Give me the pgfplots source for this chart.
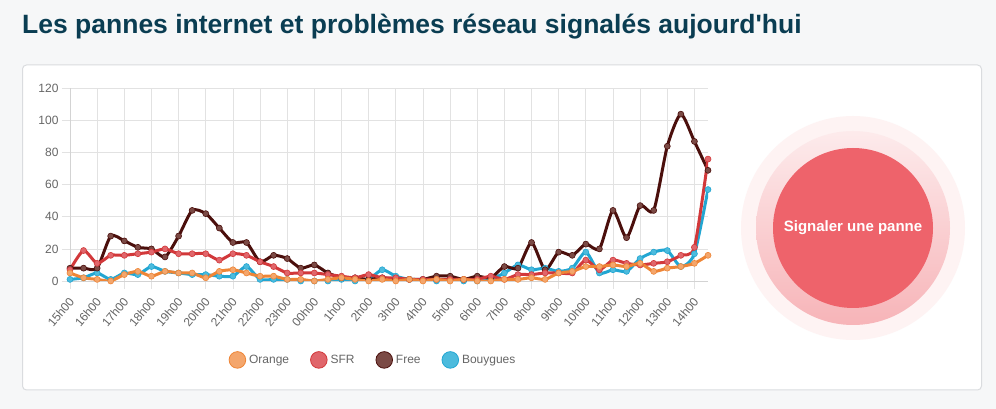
\documentclass[border=0pt]{standalone}
\usepackage{fontspec}
\setmainfont{Liberation Sans}[Ligatures=TeXOff]
\usepackage{pgfplots}
\usepackage{pgfplotstable}
\pgfplotsset{compat=1.18}
\definecolor{pagebg}{HTML}{F6F7F8}
\definecolor{cardborder}{HTML}{DADCDF}
\definecolor{titlec}{HTML}{0A3D52}
\definecolor{tickc}{HTML}{666666}
\definecolor{gridc}{HTML}{E2E2E2}
\definecolor{oLine}{HTML}{EE8536}
\definecolor{oLight}{HTML}{F4A66C}
\definecolor{sLine}{HTML}{D2383A}
\definecolor{sLight}{HTML}{E0666B}
\definecolor{fLine}{HTML}{4B0F0C}
\definecolor{fLight}{HTML}{7B4A45}
\definecolor{bLine}{HTML}{22A6D2}
\definecolor{bLight}{HTML}{4CBBDD}
\definecolor{btn}{HTML}{EE636B}
\pgfplotstableread{
x o s f b
0 5 7 8 1
1 2 19 8 2
2 1 11 8 5
3 0 16 28 1
4 4 16 25 5
5 6 17 21 4
6 3 18 20 9
7 6 20 15 6
8 5 17 28 5
9 5 17 44 4
10 2 17 42 4
11 6 13 33 3
12 7 17 24 3
13 5 16 24 9
14 3 12 12 1
15 3 9 16 1
16 1 5 14 1
17 1 5 8 0
18 0 5 10 0
19 1 4 5 0
20 2 3 2 1
21 1 2 2 0
22 0 4 1 1
23 1 2 2 7
24 0 2 1 3
25 1 1 1 1
26 0 1 1 1
27 1 1 3 0
28 0 1 3 1
29 1 1 1 0
30 0 1 3 0
31 0 3 2 1
32 1 1 9 5
33 1 4 8 10
34 2 4 24 7
35 1 5 7 8
36 5 5 18 6
37 6 5 16 8
38 9 13 23 18
39 9 7 20 5
40 10 13 44 7
41 9 11 27 6
42 11 10 47 14
43 6 11 44 18
44 8 12 84 19
45 9 16 104 9
46 11 21 87 17
47 16 76 69 57
}\pannes
\begin{document}
\begin{tikzpicture}[x=1pt,y=1pt]
% page background and card
\fill[pagebg] (0,0) rectangle (996,409);
\filldraw[fill=white, draw=cardborder, line width=1pt, rounded corners=4pt] (22.5,344) rectangle (981.5,19);
% title
\node[anchor=base west, inner sep=0pt, text=titlec, font=\fontsize{26.5}{30}\selectfont\bfseries] at (22,375) {Les pannes internet et problèmes réseau signalés aujourd'hui};
% button
\fill[btn!8] (853,181) circle (112);
\shade[top color=btn!13, bottom color=btn!48] (853,181) circle (97);
\fill[btn] (853,181) circle (80);
\node[text=white, font=\fontsize{15}{18}\selectfont\bfseries] at (853,181) {Signaler une panne};
\begin{axis}[
  at={(70pt,128pt)}, anchor=origin,
  scale only axis, width=638pt, height=192.5pt,
  xmin=0, xmax=47, ymin=0, ymax=120,
  xtick={0,2,...,46},
  xticklabels={15h00,16h00,17h00,18h00,19h00,20h00,21h00,22h00,23h00,00h00,1h00,2h00,3h00,4h00,5h00,6h00,7h00,8h00,9h00,10h00,11h00,12h00,13h00,14h00},
  ytick={0,20,...,120},
  axis lines*=left,
  axis line style={gridc!150!white, line width=0.8pt},
  grid=major,
  major grid style={gridc, line width=0.7pt},
  tick align=outside,
  major tick length=8pt,
  tick style={gridc, line width=0.7pt},
  /pgf/number format/assume math mode=true,
  tick label style={font=\fontsize{12}{14}\selectfont, text=tickc},
  xticklabel style={xshift=-2pt, yshift=-6pt, rotate=50, anchor=north east, inner sep=1pt},
  clip=true,
  legend columns=4,
  legend style={at={(0.475,-0.41)}, anchor=center, draw=none, fill=none,
    font=\fontsize{12}{14}\selectfont, text=tickc,
    /tikz/every odd column/.append style={column sep=1pt},
    /tikz/every even column/.append style={column sep=19pt}},
]
\addlegendimage{legend image code/.code={\filldraw[fill=oLight, draw=oLine, line width=0.8pt] (6pt,0) circle (8.3pt);}}
\addlegendentry{Orange}
\addlegendimage{legend image code/.code={\filldraw[fill=sLight, draw=sLine, line width=0.8pt] (6pt,0) circle (8.3pt);}}
\addlegendentry{SFR}
\addlegendimage{legend image code/.code={\filldraw[fill=fLight, draw=fLine, line width=0.8pt] (6pt,0) circle (8.3pt);}}
\addlegendentry{Free}
\addlegendimage{legend image code/.code={\filldraw[fill=bLight, draw=bLine, line width=0.8pt] (6pt,0) circle (8.3pt);}}
\addlegendentry{Bouygues}
\addplot[bLine, line width=3pt, smooth, tension=0.4, mark=*, mark size=3pt, mark options={fill=bLight, draw=bLine, line width=0.6pt}, forget plot] table[x=x, y=b] {\pannes};
\addplot[fLine, line width=3pt, smooth, tension=0.4, mark=*, mark size=3pt, mark options={fill=fLight, draw=fLine, line width=0.6pt}, forget plot] table[x=x, y=f] {\pannes};
\addplot[sLine, line width=3pt, smooth, tension=0.4, mark=*, mark size=3pt, mark options={fill=sLight, draw=sLine, line width=0.6pt}, forget plot] table[x=x, y=s] {\pannes};
\addplot[oLine, line width=3pt, smooth, tension=0.4, mark=*, mark size=3pt, mark options={fill=oLight, draw=oLine, line width=0.6pt}, forget plot] table[x=x, y=o] {\pannes};
\end{axis}
\end{tikzpicture}
\end{document}
